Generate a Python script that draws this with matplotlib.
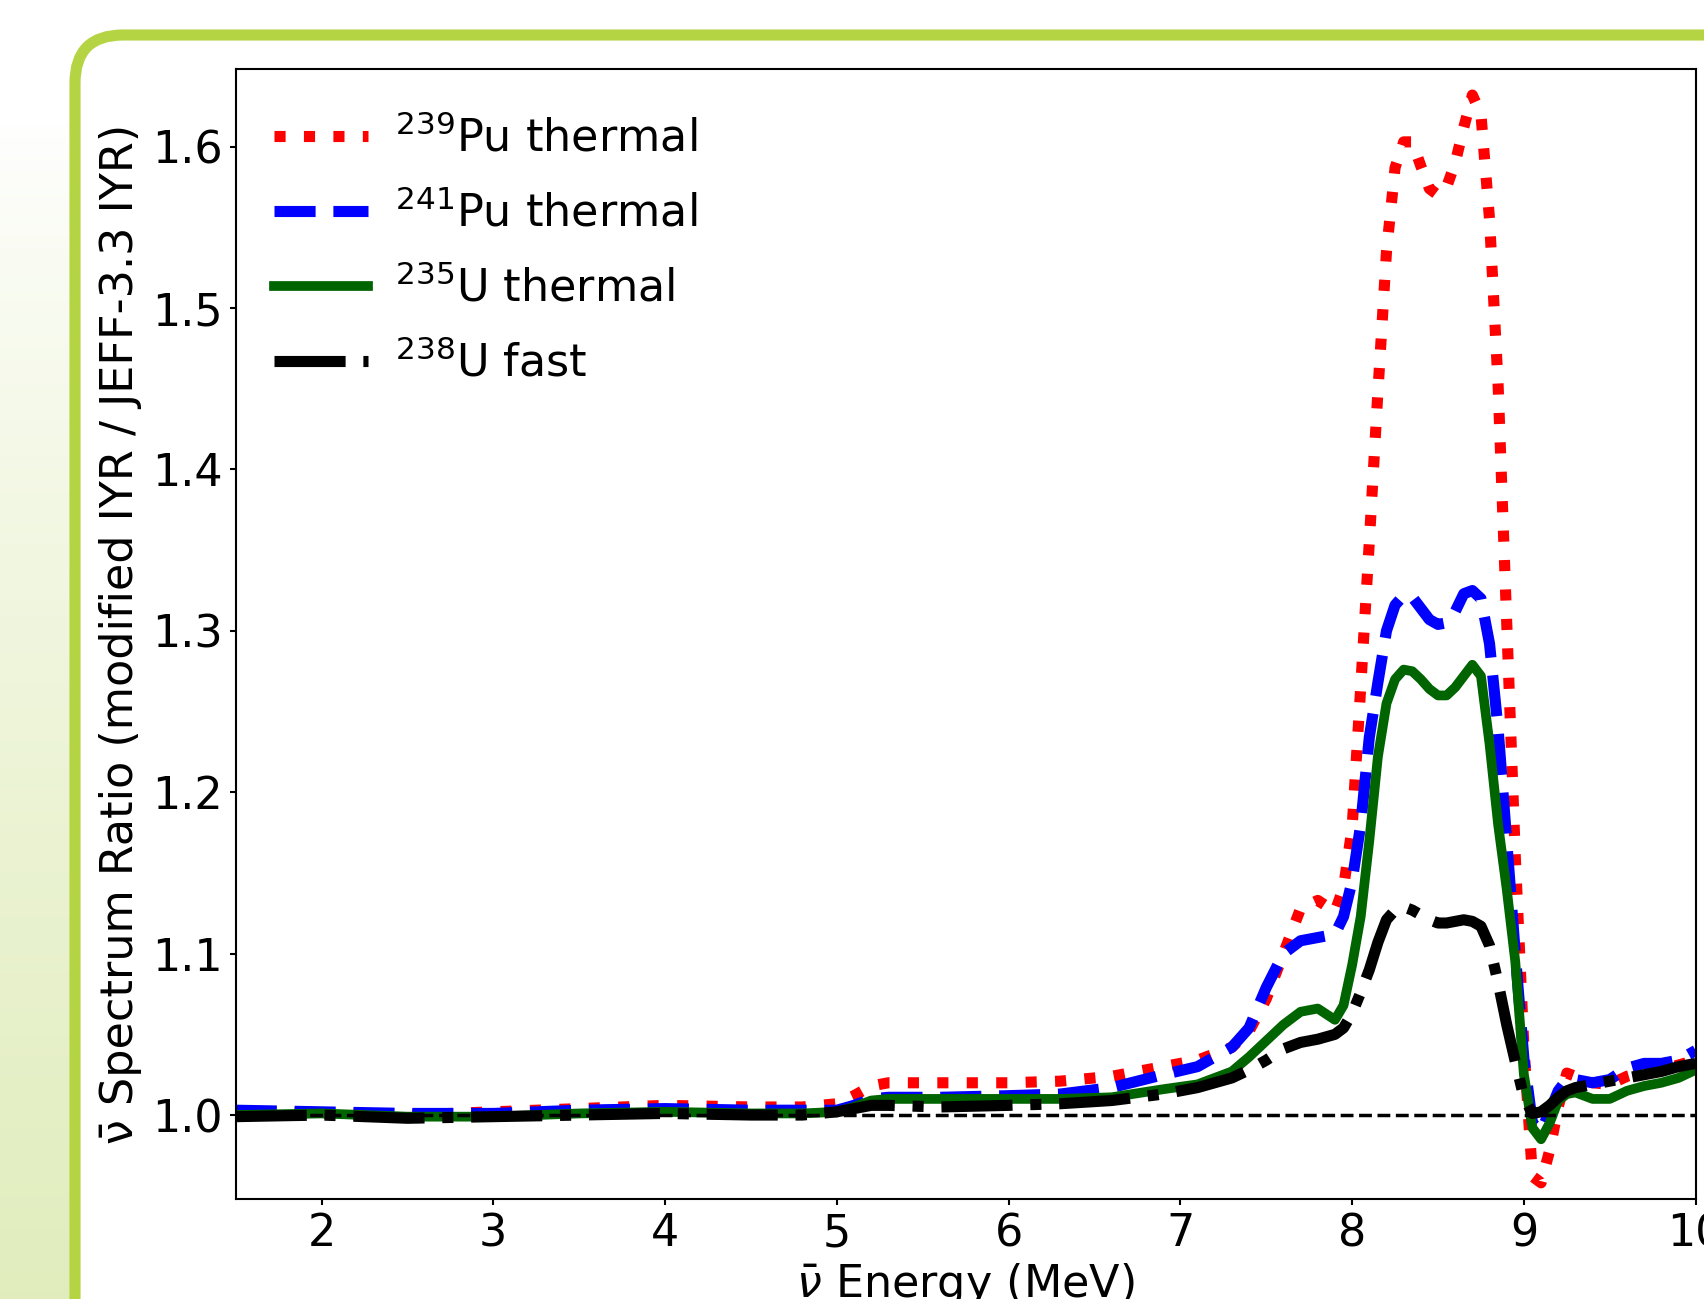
import numpy as np
import matplotlib
matplotlib.use("Agg")
import matplotlib.pyplot as plt
from matplotlib.patches import FancyBboxPatch

# energies (MeV)
energy = [1.5, 2.0, 2.5, 3.0, 3.5, 4.0, 4.5, 4.8, 5.0, 5.1, 5.2, 5.3, 5.6, 6.0, 6.3,
          6.6, 6.9, 7.1, 7.3, 7.4, 7.5, 7.6, 7.7, 7.8, 7.9, 7.95, 8.0, 8.05, 8.1, 8.15,
          8.2, 8.25, 8.3, 8.35, 8.4, 8.45, 8.5, 8.55, 8.6, 8.65, 8.7, 8.75, 8.8, 8.85,
          8.9, 8.95, 9.0, 9.05, 9.1, 9.15, 9.2, 9.25, 9.3, 9.4, 9.5, 9.6, 9.7, 9.8, 9.9, 10.0]

pu239 = [1.002, 1.001, 1.000, 1.002, 1.004, 1.006, 1.005, 1.005, 1.007, 1.012, 1.018, 1.020, 1.020, 1.020, 1.021,
         1.024, 1.030, 1.034, 1.042, 1.052, 1.072, 1.100, 1.128, 1.133, 1.126, 1.141, 1.178, 1.265, 1.355, 1.448,
         1.535, 1.587, 1.603, 1.603, 1.588, 1.574, 1.570, 1.575, 1.590, 1.612, 1.632, 1.620, 1.555, 1.452,
         1.305, 1.160, 1.042, 0.962, 0.958, 0.978, 1.005, 1.026, 1.024, 1.020, 1.019, 1.024, 1.027, 1.028, 1.031, 1.034]

pu241 = [1.003, 1.002, 1.001, 1.001, 1.003, 1.004, 1.003, 1.003, 1.003, 1.006, 1.010, 1.011, 1.011, 1.012, 1.013,
         1.017, 1.025, 1.030, 1.042, 1.054, 1.079, 1.100, 1.108, 1.110, 1.112, 1.123, 1.145, 1.180, 1.234, 1.268,
         1.300, 1.316, 1.322, 1.321, 1.314, 1.307, 1.304, 1.305, 1.312, 1.323, 1.325, 1.320, 1.292, 1.239,
         1.170, 1.100, 1.035, 0.995, 0.990, 1.002, 1.015, 1.022, 1.022, 1.020, 1.022, 1.029, 1.032, 1.032, 1.034, 1.040]

u235 = [1.000, 1.001, 0.999, 0.999, 1.001, 1.002, 1.001, 1.001, 1.002, 1.005, 1.009, 1.010, 1.010, 1.010, 1.010,
        1.011, 1.016, 1.019, 1.027, 1.036, 1.046, 1.056, 1.064, 1.066, 1.059, 1.068, 1.093, 1.123, 1.170, 1.222,
        1.255, 1.270, 1.276, 1.275, 1.270, 1.264, 1.260, 1.260, 1.265, 1.272, 1.279, 1.272, 1.230, 1.180,
        1.140, 1.095, 1.025, 0.992, 0.985, 0.995, 1.009, 1.013, 1.014, 1.010, 1.010, 1.015, 1.018, 1.020, 1.023, 1.028]

u238 = [0.999, 1.000, 0.998, 0.999, 1.000, 1.001, 1.000, 1.000, 1.002, 1.004, 1.006, 1.006, 1.005, 1.006, 1.007,
        1.009, 1.013, 1.017, 1.023, 1.028, 1.034, 1.041, 1.045, 1.047, 1.050, 1.054, 1.063, 1.076, 1.090, 1.107,
        1.121, 1.127, 1.129, 1.127, 1.124, 1.121, 1.119, 1.119, 1.120, 1.121, 1.120, 1.117, 1.105, 1.082,
        1.056, 1.033, 1.011, 1.001, 1.002, 1.006, 1.011, 1.015, 1.017, 1.019, 1.021, 1.023, 1.025, 1.027, 1.030, 1.032]

labels = [r'$^{239}$Pu thermal', r'$^{241}$Pu thermal', r'$^{235}$U thermal', r'$^{238}$U fast']

W, H = 1704, 1299
fig = plt.figure(figsize=(W / 100, H / 100), dpi=100, facecolor='white')

# slide background: left gradient strip + rounded green frame
bg = fig.add_axes([0, 0, 1, 1], zorder=-1)
bg.set_xlim(0, W)
bg.set_ylim(H, 0)
bg.axis('off')
grad = np.linspace(0, 1, 256).reshape(-1, 1)
top_c = np.array([1.0, 1.0, 1.0])
bot_c = np.array([0.882, 0.929, 0.741])
img = top_c + (bot_c - top_c) * grad[..., None] ** 0.8
bg.imshow(img, extent=(0, 72, H, 120), aspect='auto', zorder=0)
frame = FancyBboxPatch((75, 35), 1800, 1400,
                       boxstyle="round,pad=0,rounding_size=48",
                       facecolor='white', edgecolor='#b4d443', linewidth=8, zorder=1)
bg.add_patch(frame)

ax = fig.add_axes([0.1383, 0.0770, 0.8568, 0.8697])
ax.plot(energy, pu239, color='red', ls=':', lw=8, label=labels[0])
ax.plot(energy, pu241, color='blue', ls='--', lw=8, label=labels[1])
ax.plot(energy, u235, color='darkgreen', ls='-', lw=7, label=labels[2])
ax.plot(energy, u238, color='black', ls='-.', lw=8, label=labels[3])
ax.axhline(1.0, color='black', ls='--', lw=2.5)

ax.set_xlim(1.5, 10)
ax.set_ylim(0.948, 1.648)
ax.set_xticks([2, 3, 4, 5, 6, 7, 8, 9, 10])
ax.set_yticks([1.0, 1.1, 1.2, 1.3, 1.4, 1.5, 1.6])
ax.tick_params(labelsize=32, length=4.5, width=1.5, pad=5)
for s in ax.spines.values():
    s.set_linewidth(1.5)

ax.set_xlabel('$\\nu$\u0304 Energy (MeV)', fontsize=32, labelpad=4)
ax.set_ylabel('\u03bd\u0304 Spectrum Ratio (modified IYR / JEFF-3.3 IYR)', fontsize=32, labelpad=7)
ax.legend(loc='upper left', bbox_to_anchor=(0.0144, 0.974), borderaxespad=0,
          frameon=False, fontsize=32, handlelength=2.1,
          labelspacing=0.68, handletextpad=0.62)

fig.savefig('out.png', dpi=100, facecolor='white')
